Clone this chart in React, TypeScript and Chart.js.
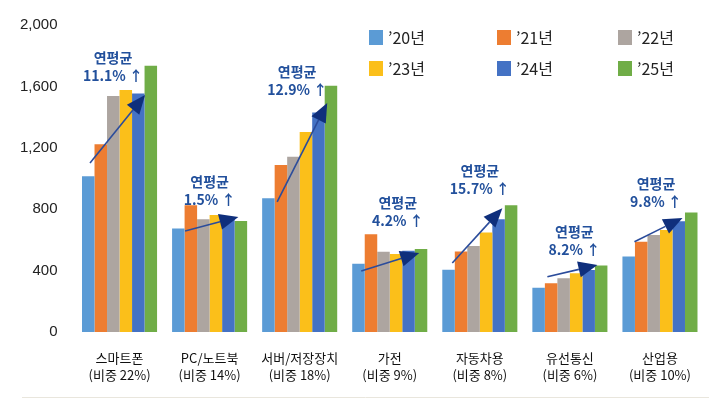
import React, { useEffect, useRef } from "react";
import { Chart, registerables } from "chart.js";

Chart.register(...registerables);

const categories: string[][] = [
  ["스마트폰", "(비중 22%)"],
  ["PC/노트북", "(비중 14%)"],
  ["서버/저장장치", "(비중 18%)"],
  ["가전", "(비중 9%)"],
  ["자동차용", "(비중 8%)"],
  ["유선통신", "(비중 6%)"],
  ["산업용", "(비중 10%)"],
];

const seriesLabels = ["’20년", "’21년", "’22년", "’23년", "’24년", "’25년"];

const y2020 = [1015, 675, 871, 445, 406, 289, 492];
const y2021 = [1223, 826, 1088, 636, 525, 317, 588];
const y2022 = [1537, 734, 1142, 522, 560, 350, 632];
const y2023 = [1576, 762, 1303, 508, 648, 383, 665];
const y2024 = [1553, 735, 1430, 530, 735, 404, 722];
const y2025 = [1734, 723, 1605, 541, 826, 434, 778];

const yTicks = [0, 400, 800, 1200, 1600, 2000];

// CAGR annotation text
const cagrLabels = ["11.1%", "1.5%", "12.9%", "4.2%", "15.7%", "8.2%", "9.8%"];
// arrow start / end values (in data units) for each category
const arrowStartValues = [1101, 658, 847, 397, 450, 360, 588];
const arrowEndValues = [1544, 749, 1492, 515, 807, 436, 743];

// annotation anchors: bar-slot positions and label heights (data units)
const arrowStartSlot = [0.64, 1.04, 1.2, 0.72, 0.8, 1.2, 0.96];
const arrowEndSlot = [5.04, 5.3, 5.2, 5.36, 4.8, 5.2, 4.8];
const labelValues = [1785, 977, 1694, 840, 1049, 651, 964];
const labelSlotOffset = [-0.52, 0, -0.2, 0.64, 0, 0.36, -0.32];

const colors = ["#5b9bd5", "#ed7d31", "#ada5a0", "#fbbf1a", "#4472c4", "#70ad47"];

const FONT = "'Liberation Sans', 'Noto Sans CJK KR', sans-serif";
const KFONT = "'Noto Sans CJK KR', 'Liberation Sans', sans-serif";

const seriesValues = [y2020, y2021, y2022, y2023, y2024, y2025];

const annotationPlugin = {
  id: "cagrAnnotations",
  afterDatasetsDraw(chart: any) {
    const ctx = chart.ctx;
    const yScale = chart.scales.y;
    const meta0 = chart.getDatasetMeta(0);
    ctx.save();
    for (let i = 0; i < categories.length; i++) {
      const bar = meta0.data[i];
      const w = bar.width;
      const left = bar.x - w / 2;
      const groupCenter = left + (w * seriesValues.length) / 2;
      const x1 = left + arrowStartSlot[i] * w;
      const y1 = yScale.getPixelForValue(arrowStartValues[i]);
      const x2 = left + arrowEndSlot[i] * w;
      const y2 = yScale.getPixelForValue(arrowEndValues[i]);
      const ang = Math.atan2(y2 - y1, x2 - x1);
      const headLen = 19;
      const headHalf = 8;
      const bx = x2 - headLen * Math.cos(ang);
      const by = y2 - headLen * Math.sin(ang);
      ctx.strokeStyle = "#2b4c9b";
      ctx.lineWidth = 1.6;
      ctx.beginPath();
      ctx.moveTo(x1, y1);
      ctx.lineTo(bx, by);
      ctx.stroke();
      ctx.fillStyle = "#0f2f7c";
      ctx.beginPath();
      ctx.moveTo(x2, y2);
      ctx.lineTo(bx + headHalf * Math.sin(ang), by - headHalf * Math.cos(ang));
      ctx.lineTo(bx - headHalf * Math.sin(ang), by + headHalf * Math.cos(ang));
      ctx.closePath();
      ctx.fill();

      const lx = groupCenter + labelSlotOffset[i] * w;
      const ly = yScale.getPixelForValue(labelValues[i]);
      ctx.fillStyle = "#22509c";
      ctx.font = `bold 14px ${KFONT}`;
      ctx.textAlign = "center";
      ctx.textBaseline = "middle";
      ctx.fillText("연평균", lx, ly);
      ctx.fillText(cagrLabels[i] + " ↑", lx, ly + 18);
    }
    ctx.restore();
  },
};

const legendPlugin = {
  id: "gridLegend",
  afterDraw(chart: any) {
    const ctx = chart.ctx;
    const colX = [369, 497, 618];
    const rowY = [30, 61];
    ctx.save();
    chart.data.datasets.forEach((ds: any, k: number) => {
      const cx = colX[k % 3];
      const cy = rowY[Math.floor(k / 3)];
      ctx.fillStyle = ds.backgroundColor;
      ctx.fillRect(cx, cy, 14, 15);
      ctx.fillStyle = "#222";
      ctx.font = `16px ${KFONT}`;
      ctx.textAlign = "left";
      ctx.textBaseline = "middle";
      ctx.fillText(ds.label, cx + 19, cy + 8);
    });
    // bottom separator
    ctx.strokeStyle = "#e9e6dd";
    ctx.lineWidth = 1;
    ctx.beginPath();
    ctx.moveTo(22, 397.5);
    ctx.lineTo(709, 397.5);
    ctx.stroke();
    ctx.restore();
  },
};

export default function App() {
  const ref = useRef<HTMLCanvasElement>(null);
  useEffect(() => {
    const chart = new Chart(ref.current!, {
      type: "bar",
      data: {
        labels: categories,
        datasets: seriesValues.map((vals, k) => ({
          label: seriesLabels[k],
          data: vals,
          backgroundColor: colors[k],
          borderWidth: 0,
          barPercentage: 1,
          categoryPercentage: 0.8333,
        })),
      },
      options: {
        responsive: false,
        animation: false,
        devicePixelRatio: 1,
        layout: { padding: { top: 25, right: 4, left: 0, bottom: 0 } },
        plugins: {
          legend: { display: false },
          tooltip: { enabled: false },
        },
        scales: {
          x: {
            grid: { display: false },
            border: { display: false },
            ticks: {
              color: "#111",
              padding: 9,
              maxRotation: 0,
              autoSkip: false,
              font: { family: KFONT, size: 13, lineHeight: 1.35 },
            },
            afterFit: (s: any) => {
              s.height = 67;
            },
          },
          y: {
            min: 0,
            max: 2000,
            grid: { display: false },
            border: { display: false },
            afterBuildTicks: (s: any) => {
              s.ticks = yTicks.map((v) => ({ value: v }));
            },
            ticks: {
              color: "#222",
              padding: 9,
              font: { family: FONT, size: 15 },
              callback: (v: any) => Number(v).toLocaleString("en-US"),
            },
            afterFit: (s: any) => {
              s.width = 74.5;
            },
          },
        },
      },
      plugins: [annotationPlugin, legendPlugin],
    });
    return () => chart.destroy();
  }, []);
  return (
    <div style={{ position: "fixed", left: 0, top: 0, width: 709, height: 399, background: "#fff" }}>
      <canvas ref={ref} width={709} height={399} style={{ display: "block" }} />
    </div>
  );
}
